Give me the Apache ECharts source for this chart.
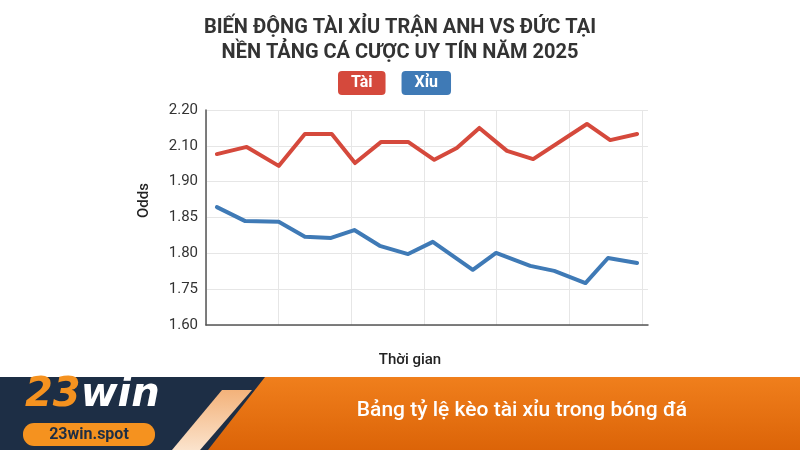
<!DOCTYPE html>
<html>
<head>
<meta charset="utf-8">
<script src="https://cdn.jsdelivr.net/npm/echarts@6/dist/echarts.min.js"></script>
<style>
  html, body { margin: 0; padding: 0; background: #ffffff; }
  #chart { width: 800px; height: 450px; }
</style>
</head>
<body>
<div id="chart"></div>
<script>
// ---- data ----
const titleText = 'BIẾN ĐỘNG TÀI XỈU TRẬN ANH VS ĐỨC TẠI\nNỀN TẢNG CÁ CƯỢC UY TÍN NĂM 2025';
const seriesNames = ['Tài', 'Xỉu'];
// y tick labels, one per evenly spaced odds level (0..6)
const yTickLabels = ['1.60', '1.75', '1.80', '1.85', '1.90', '2.10', '2.20'];
// time positions (in grid-column units) and odds levels (in tick-level units)
const taiTime  = [0.15, 0.56, 1.00, 1.36, 1.73, 2.05, 2.41, 2.78, 3.14, 3.45, 3.76, 4.14, 4.50, 5.24, 5.56, 5.93];
const taiLevel = [4.77, 4.97, 4.44, 5.33, 5.33, 4.52, 5.11, 5.11, 4.61, 4.94, 5.50, 4.86, 4.63, 5.61, 5.16, 5.33];
const xiuTime  = [0.15, 0.54, 1.00, 1.36, 1.72, 2.04, 2.39, 2.78, 3.12, 3.67, 3.99, 4.46, 4.79, 5.22, 5.53, 5.93];
const xiuLevel = [3.29, 2.90, 2.88, 2.46, 2.43, 2.65, 2.21, 1.98, 2.32, 1.54, 2.01, 1.65, 1.51, 1.17, 1.87, 1.73];
const xAxisName = 'Thời gian';
const yAxisName = 'Odds';
const bannerText = 'Bảng tỷ lệ kèo tài xỉu trong bóng đá';

const taiColor = '#d5493c';
const xiuColor = '#3f7ab6';

const pair = (xs, ys) => xs.map((x, i) => [x, ys[i]]);

const chart = echarts.init(document.getElementById('chart'), null, { renderer: 'canvas' });
chart.setOption({
  animation: false,
  backgroundColor: '#ffffff',
  title: {
    text: titleText,
    left: 'center',
    top: 10,
    textStyle: {
      fontFamily: 'Roboto',
      fontSize: 20,
      fontWeight: 'bold',
      color: '#333333',
      lineHeight: 25
    }
  },
  legend: {
    top: 66,
    left: 328,
    itemGap: 11,
    itemWidth: 0,
    itemHeight: 0,
    icon: 'none',
    selectedMode: false,
    data: [
      { name: seriesNames[0], textStyle: { backgroundColor: taiColor } },
      { name: seriesNames[1], textStyle: { backgroundColor: xiuColor } }
    ],
    textStyle: {
      color: '#ffffff',
      fontFamily: 'Roboto',
      fontSize: 16,
      fontWeight: 'bold',
      lineHeight: 16,
      padding: [4, 13, 4, 13],
      borderRadius: 4
    }
  },
  grid: [
    { left: 206, right: 152, top: 110, bottom: 125 },
    { left: 206, right: 158, top: 110, bottom: 125 }
  ],
  xAxis: [
    {
      type: 'value', gridIndex: 0, min: 0, max: 6.08,
      name: xAxisName, nameLocation: 'middle', nameGap: 28,
      nameTextStyle: { fontFamily: 'Roboto', fontSize: 15, fontWeight: 500, color: '#222222', padding: [0, 34, 0, 0] },
      axisLine: { show: true, lineStyle: { color: '#555555', width: 1.5 } },
      axisTick: { show: false }, axisLabel: { show: false }, splitLine: { show: false }
    },
    {
      type: 'value', gridIndex: 1, min: 0, max: 6, interval: 1,
      axisLine: { show: false }, axisTick: { show: false }, axisLabel: { show: false },
      splitLine: { show: true, lineStyle: { color: '#e6e6e6', width: 1 } }
    }
  ],
  yAxis: [
    {
      type: 'value', gridIndex: 0, min: 0, max: 6, interval: 1,
      name: yAxisName, nameLocation: 'middle', nameGap: 54, nameRotate: 90,
      nameTextStyle: { fontFamily: 'Roboto', fontSize: 15, fontWeight: 500, color: '#222222', padding: [0, 0, 0, 34] },
      axisLine: { show: true, lineStyle: { color: '#555555', width: 1.5 } },
      axisTick: { show: false },
      axisLabel: {
        margin: 8, fontFamily: 'Roboto', fontSize: 15, color: '#333333',
        formatter: v => yTickLabels[Math.round(v)] ?? ''
      },
      splitLine: { show: true, lineStyle: { color: '#e6e6e6', width: 1 } }
    },
    {
      type: 'value', gridIndex: 1, min: 0, max: 6, show: false,
      splitLine: { show: false }
    }
  ],
  series: [
    {
      name: seriesNames[0], type: 'line', xAxisIndex: 0, yAxisIndex: 0,
      data: pair(taiTime, taiLevel), showSymbol: false, symbol: 'none',
      color: taiColor,
      lineStyle: { color: taiColor, width: 4, join: 'round', cap: 'round' }
    },
    {
      name: seriesNames[1], type: 'line', xAxisIndex: 0, yAxisIndex: 0,
      data: pair(xiuTime, xiuLevel), showSymbol: false, symbol: 'none',
      color: xiuColor,
      lineStyle: { color: xiuColor, width: 4, join: 'round', cap: 'round' }
    }
  ],
  graphic: [
    { type: 'rect', shape: { x: 0, y: 377, width: 800, height: 73 }, style: { fill: '#1d2e45' }, silent: true },
    {
      type: 'polygon', shape: { points: [[265, 377], [800, 377], [800, 450], [208, 450]] },
      style: {
        fill: new echarts.graphic.LinearGradient(0, 0, 0, 1, [
          { offset: 0, color: '#f07f1c' }, { offset: 1, color: '#dc6408' }
        ])
      }, silent: true
    },
    {
      type: 'polygon', shape: { points: [[222, 390], [252, 390], [200, 450], [172, 450]] },
      style: {
        fill: new echarts.graphic.LinearGradient(0, 0, 0, 1, [
          { offset: 0, color: '#f3b27a' }, { offset: 1, color: '#fbe3cc' }
        ])
      }, silent: true
    },
    {
      type: 'text', left: 25, top: 376, silent: true,
      style: {
        text: '{a|23}{b|win}',
        rich: {
          a: { fontFamily: 'DejaVu Sans', fontSize: 40, fontWeight: 'bold', fontStyle: 'italic', fill: '#f5921f' },
          b: { fontFamily: 'DejaVu Sans', fontSize: 40, fontWeight: 'bold', fontStyle: 'italic', fill: '#ffffff' }
        }
      }
    },
    { type: 'rect', shape: { x: 23, y: 423, width: 132, height: 23, r: 11 }, style: { fill: '#f5921f' }, silent: true },
    {
      type: 'text', x: 89, y: 434.5, silent: true,
      style: { text: '23win.spot', fontFamily: 'Roboto', fontSize: 16, fontWeight: 'bold', fill: '#1d2e45', align: 'center', verticalAlign: 'middle' }
    },
    {
      type: 'text', x: 522, y: 411, silent: true,
      style: { text: bannerText, fontFamily: 'Roboto', fontSize: 21, fontWeight: 500, fill: '#ffffff', align: 'center', verticalAlign: 'middle' }
    }
  ]
});
</script>
</body>
</html>
